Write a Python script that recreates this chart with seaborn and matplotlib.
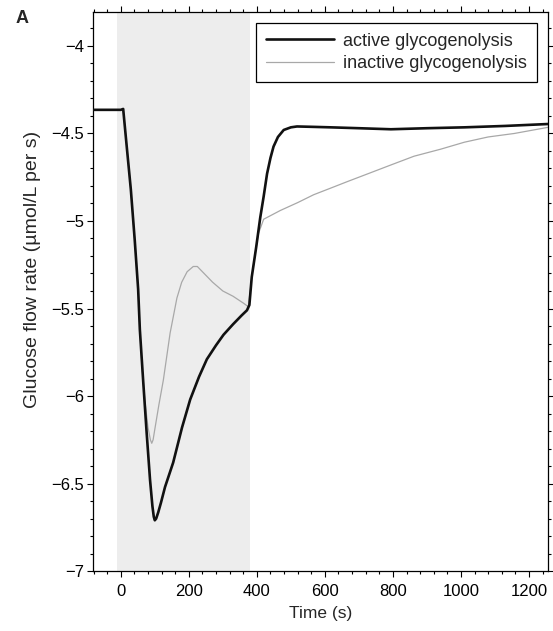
import numpy as np
import pandas as pd
import matplotlib
matplotlib.use("Agg")
import matplotlib.pyplot as plt
from matplotlib.ticker import MultipleLocator, FuncFormatter
import seaborn as sns

# Glucose flow rate over time (s), two model variants
active_time = [-82, 0, 7, 17.7, 29.5, 41, 51, 56, 66, 76, 86, 93, 97, 100, 104,
               110, 118, 130, 154, 180, 204, 230, 253, 280, 302, 330, 355, 371,
               378, 385, 398, 410, 420, 430, 440, 449, 462, 479, 500, 518, 560,
               617, 700, 794, 900, 1010, 1130, 1256]
active_rate = [-4.365, -4.365, -4.36, -4.58, -4.82, -5.11, -5.39, -5.62, -5.92,
               -6.21, -6.48, -6.63, -6.69, -6.71, -6.70, -6.665, -6.61, -6.52,
               -6.38, -6.18, -6.02, -5.89, -5.79, -5.71, -5.65, -5.59, -5.54,
               -5.51, -5.48, -5.32, -5.15, -4.98, -4.86, -4.73, -4.64, -4.575,
               -4.52, -4.48, -4.465, -4.46, -4.462, -4.465, -4.47, -4.476,
               -4.47, -4.465, -4.457, -4.446]

inactive_time = [-82, 0, 7, 17.7, 29.5, 41, 51, 56, 63, 71, 80, 87, 91, 95, 100,
                 112, 125, 145, 154, 165, 179, 195, 213, 225, 245, 270, 300,
                 330, 361, 375, 385, 398, 405, 420, 469, 520, 567, 620, 666,
                 720, 794, 862, 940, 1010, 1080, 1157, 1256]
inactive_rate = [-4.365, -4.365, -4.36, -4.58, -4.82, -5.11, -5.39, -5.62,
                 -5.85, -6.03, -6.18, -6.25, -6.27, -6.25, -6.19, -6.05, -5.91,
                 -5.64, -5.55, -5.44, -5.35, -5.29, -5.26, -5.26, -5.30, -5.35,
                 -5.40, -5.43, -5.47, -5.49, -5.32, -5.15, -5.07, -4.99, -4.94,
                 -4.895, -4.85, -4.81, -4.775, -4.735, -4.68, -4.63, -4.59,
                 -4.55, -4.52, -4.50, -4.465]

series_names = ["active glycogenolysis", "inactive glycogenolysis"]
stimulus_window = (-12, 380)

sns.set_theme(style="white")
plt.rcParams["font.family"] = ["Liberation Sans", "DejaVu Sans"]

fig = plt.figure(figsize=(5.53, 6.31), dpi=100)
ax = fig.add_axes([0.168, 0.095, 0.823, 0.886])

# shaded stimulus window
ax.axvspan(*stimulus_window, color="#ededed", lw=0, zorder=0)

df_active = pd.DataFrame({"time": active_time, "rate": active_rate})
df_inactive = pd.DataFrame({"time": inactive_time, "rate": inactive_rate})

sns.lineplot(data=df_inactive, x="time", y="rate", ax=ax, color="#a8a8a8",
             lw=0.9, label=series_names[1], zorder=2)
sns.lineplot(data=df_active, x="time", y="rate", ax=ax, color="#111111",
             lw=1.9, label=series_names[0], zorder=3)

ax.set_xlim(-82, 1256)
ax.set_ylim(-7, -3.806)

ax.xaxis.set_major_locator(MultipleLocator(200))
ax.xaxis.set_minor_locator(MultipleLocator(40))
ax.yaxis.set_major_locator(MultipleLocator(0.5))
ax.yaxis.set_minor_locator(MultipleLocator(0.1))
ax.yaxis.set_major_formatter(FuncFormatter(
    lambda v, p: ("%g" % v).replace("-", "\u2212")))

ax.tick_params(which="both", direction="out", top=True, right=True,
               bottom=True, left=True, colors="black", labelsize=12,
               width=0.8)
ax.tick_params(which="major", length=4.5)
ax.tick_params(which="minor", length=2.5)
ax.tick_params(axis="x", which="major", pad=5)
ax.tick_params(axis="y", which="major", pad=2)
ax.tick_params(axis="x", which="both", labeltop=False)
ax.tick_params(axis="y", which="both", labelright=False)

for sp in ax.spines.values():
    sp.set_color("black")
    sp.set_linewidth(0.9)

ax.set_xlabel("Time (s)", fontsize=12.5, labelpad=5)
ax.set_ylabel("Glucose flow rate (\u00b5mol/L per s)", fontsize=14, labelpad=7,
              y=0.54)

handles, labels = ax.get_legend_handles_labels()
order = [labels.index(n) for n in series_names]
leg = ax.legend([handles[i] for i in order], [labels[i] for i in order],
                loc="upper right", fontsize=13, handlelength=3.8,
                frameon=True, fancybox=False, borderaxespad=0.6,
                borderpad=0.55, labelspacing=0.3, handletextpad=0.5)
leg.get_frame().set_edgecolor("black")
leg.get_frame().set_linewidth(0.9)
leg.get_frame().set_alpha(1)

fig.text(0.028, 0.970, "A", fontsize=13, fontweight="bold", va="center")

fig.savefig("out.png", dpi=100)
